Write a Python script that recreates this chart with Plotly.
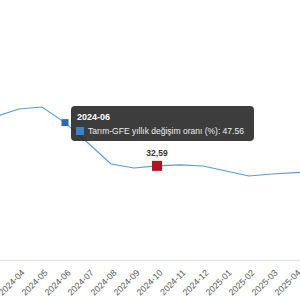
import plotly.graph_objects as go

months = ["2024-03", "2024-04", "2024-05", "2024-06", "2024-07", "2024-08", "2024-09",
          "2024-10", "2024-11", "2024-12", "2025-01", "2025-02", "2025-03", "2025-04", "2025-05"]
values = [49.7, 52.27, 52.96, 47.56, 40.5, 33.23, 31.85,
          32.59, 32.9, 32.54, 30.8, 29.08, 29.77, 30.29, 30.64]
series_name = "Tarım-GFE yıllık değişim oranı (%)"
highlight_month = "2024-06"
min_month = "2024-10"
min_label = "32,59"

W, H_PLOT = 300.0, 260.0
FONT = "Liberation Sans, Arial, sans-serif"

def px(x):
    return x / W

def py(y):
    return 1 - y / H_PLOT

fig = go.Figure()
fig.add_trace(go.Scatter(x=months, y=values, mode="lines",
                         line=dict(color="#5b9bd5", width=1.2), hoverinfo="skip"))
hi = months.index(highlight_month)
fig.add_trace(go.Scatter(x=[highlight_month], y=[values[hi]], mode="markers",
                         marker=dict(symbol="square", size=7, color="#2a6cb3"), hoverinfo="skip"))
mi = months.index(min_month)
fig.add_trace(go.Scatter(x=[min_month], y=[values[mi]], mode="markers+text",
                         marker=dict(symbol="square", size=10, color="#b0141c"),
                         text=["<b>" + min_label + "</b>"], textposition="top center",
                         textfont=dict(size=8.5, color="#333", family=FONT), hoverinfo="skip"))

# tooltip box (rounded)
x0, x1, y0, y1, r = 71, 254, 106, 141, 4
def P(x, y):
    return f"{px(x):.5f},{py(y):.5f}"
path = (f"M {P(x0+r,y0)} L {P(x1-r,y0)} Q {P(x1,y0)} {P(x1,y0+r)} L {P(x1,y1-r)} "
        f"Q {P(x1,y1)} {P(x1-r,y1)} L {P(x0+r,y1)} Q {P(x0,y1)} {P(x0,y1-r)} "
        f"L {P(x0,y0+r)} Q {P(x0,y0)} {P(x0+r,y0)} Z")
fig.add_shape(type="path", path=path, xref="paper", yref="paper",
              fillcolor="rgba(40,40,40,0.9)", line=dict(width=0))
fig.add_shape(type="rect", xref="paper", yref="paper",
              x0=px(76), x1=px(84), y0=py(135), y1=py(127),
              fillcolor="#3b82c8", line=dict(width=0))
fig.add_annotation(x=px(75), y=py(117), xref="paper", yref="paper", xanchor="left",
                   yanchor="middle", showarrow=False, text="<b>" + highlight_month + "</b>",
                   font=dict(size=9, color="#ffffff", family=FONT))
fig.add_annotation(x=px(86), y=py(131), xref="paper", yref="paper", xanchor="left",
                   yanchor="middle", showarrow=False,
                   text=f"{series_name}: {values[hi]:.2f}",
                   font=dict(size=8.5, color="#eeeeee", family=FONT))

fig.update_layout(
    width=300, height=300, margin=dict(l=0, r=0, t=0, b=40, autoexpand=False),
    paper_bgcolor="white", plot_bgcolor="white", showlegend=False,
    hovermode=False,
    xaxis=dict(type="category", range=[0.174, 13.217], tickangle=-45, automargin=False,
               showline=True, linecolor="#e0e0e0", linewidth=1, showgrid=False,
               ticks="", ticklabelshift=3, ticklabelstandoff=3,
               tickfont=dict(size=8.8, color="#555", family=FONT)),
    yaxis=dict(range=[0, 90], visible=False, showgrid=False, automargin=False),
)
fig.write_html("out.html")
